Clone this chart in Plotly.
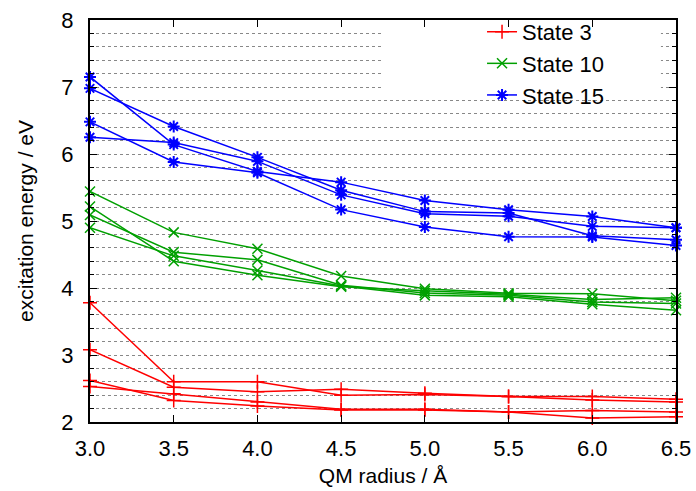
import plotly.graph_objects as go

radius = [3.0, 3.5, 4.0, 4.5, 5.0, 5.5, 6.0, 6.5]

state3_a = [3.78, 2.60, 2.60, 2.40, 2.41, 2.38, 2.38, 2.34]
state3_b = [3.08, 2.52, 2.45, 2.49, 2.43, 2.38, 2.33, 2.30]
state3_c = [2.62, 2.32, 2.24, 2.18, 2.18, 2.15, 2.06, 2.08]
state3_d = [2.53, 2.42, 2.30, 2.19, 2.19, 2.15, 2.17, 2.15]

state10_a = [5.44, 4.83, 4.585, 4.18, 3.99, 3.92, 3.915, 3.81]
state10_b = [5.216, 4.40, 4.19, 4.02, 3.96, 3.905, 3.83, 3.855]
state10_c = [5.09, 4.535, 4.42, 4.04, 3.925, 3.89, 3.79, 3.77]
state10_d = [4.90, 4.48, 4.26, 4.03, 3.89, 3.87, 3.757, 3.667]

state15_a = [6.98, 6.41, 5.95, 5.46, 5.14, 5.12, 4.78, 4.72]
state15_b = [6.25, 6.17, 5.89, 5.39, 5.11, 5.07, 4.92, 4.90]
state15_c = [7.15, 6.14, 5.74, 5.58, 5.305, 5.167, 5.067, 4.90]
state15_d = [6.48, 5.88, 5.72, 5.17, 4.91, 4.765, 4.76, 4.635]

groups = [
    ("State 3", "#ff0000", "cross-thin", [state3_a, state3_b, state3_c, state3_d]),
    ("State 10", "#00a000", "x-thin", [state10_a, state10_b, state10_c, state10_d]),
    ("State 15", "#0000ff", "asterisk", [state15_a, state15_b, state15_c, state15_d]),
]

FONT = "Liberation Sans, Arial, Helvetica, sans-serif"

fig = go.Figure()
for name, color, sym, series in groups:
    for i, ys in enumerate(series):
        fig.add_trace(go.Scatter(
            x=radius, y=ys, mode="lines+markers", name=name,
            legendgroup=name, showlegend=(i == 0),
            line=dict(color=color, width=1.5),
            marker=dict(symbol=sym, size=10, color=color,
                        line=dict(color=color, width=2 if sym == "asterisk" else 1.5)),
            cliponaxis=False,
        ))

# white area behind the legend hides the grid lines there
fig.add_shape(type="rect", xref="x", yref="y", x0=4.745, x1=6.41, y0=6.9, y1=8.0,
              fillcolor="white", line=dict(width=0), layer="between")

fig.update_layout(
    width=696, height=491,
    margin=dict(l=90, r=20, t=19, b=69),
    paper_bgcolor="white", plot_bgcolor="white",
    font=dict(family=FONT, size=22, color="black"),
    showlegend=True,
    legend=dict(x=0.669, y=1.02, xanchor="left", yanchor="top",
                bgcolor="rgba(0,0,0,0)", borderwidth=0,
                font=dict(family=FONT, size=22), tracegroupgap=0),
    xaxis=dict(
        range=[3.0, 6.5], dtick=0.5, tick0=3.0, tickformat=".1f",
        ticks="inside", ticklen=7, tickwidth=1, tickcolor="black",
        showline=True, linecolor="black", linewidth=2, mirror="ticks",
        showgrid=False, zeroline=False, automargin=False,
        ticklabelstandoff=6,
        title=dict(text="QM radius / Å", font=dict(size=21), standoff=8),
    ),
    yaxis=dict(
        range=[2, 8], dtick=1, tick0=2,
        ticks="inside", ticklen=7, tickwidth=1, tickcolor="black",
        showline=True, linecolor="black", linewidth=2, mirror="ticks",
        showgrid=True, gridcolor="#888888", griddash="dot", gridwidth=1,
        zeroline=False, automargin=False,
        ticklabelstandoff=10,
        minor=dict(dtick=0.2, ticks="inside", ticklen=4, tickcolor="black",
                   showgrid=True, gridcolor="#888888", griddash="dot", gridwidth=1),
        title=dict(text="excitation energy / eV", font=dict(size=21), standoff=22),
    ),
)

fig.write_html("out.html", config={"displayModeBar": False},
               post_script="document.body.style.margin='0';document.body.style.overflow='hidden';")
